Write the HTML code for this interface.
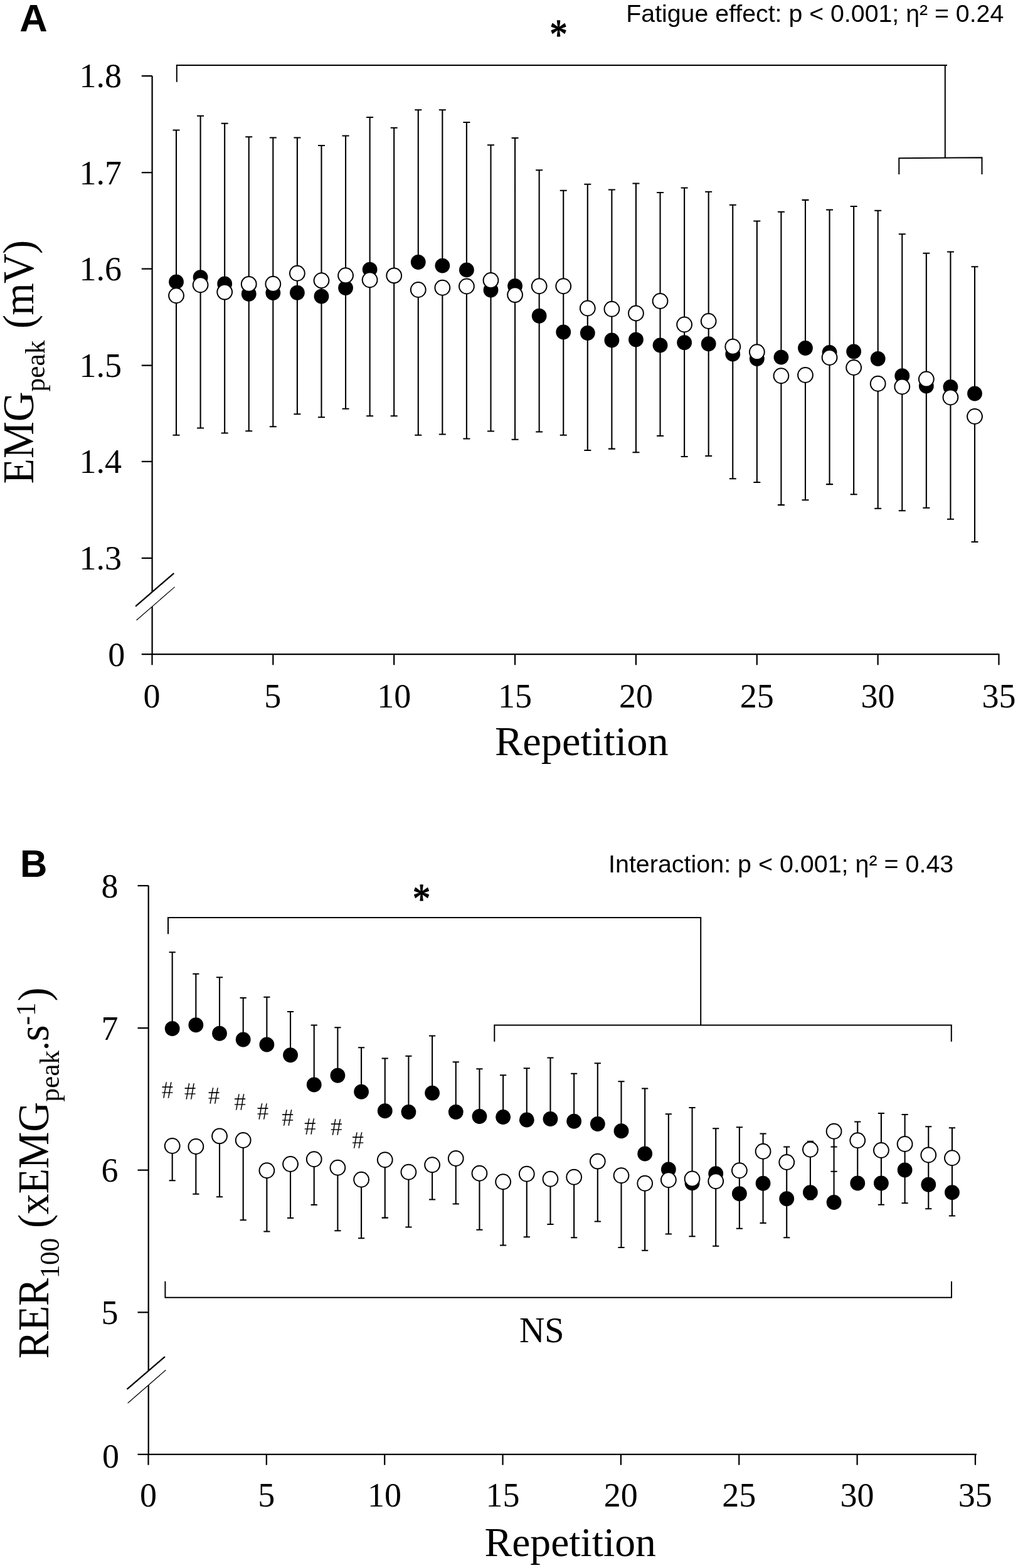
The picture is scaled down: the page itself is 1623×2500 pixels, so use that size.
<!DOCTYPE html>
<html lang="en"><head><meta charset="utf-8"><title>Figure</title>
<style>
html,body{margin:0;padding:0;background:#fff}
svg{display:block}
text{font-family:"Liberation Serif",serif;fill:#000}
.sans{font-family:"Liberation Sans",sans-serif}
.tk{font-size:55.4px}
.ax{font-size:66.4px}
.ln{stroke:#000;fill:none}
</style></head><body>
<svg width="1623" height="2500" viewBox="0 0 1623 2500">
<rect width="1623" height="2500" fill="#fff"/>
<!-- Panel A -->
<path class="ln" stroke-width="2.25" d="M242.6 121V1043.2M225.8 1043.2H1593.4M225.8 121H242.6M225.8 275.2H242.6M225.8 428.6H242.6M225.8 582.6H242.6M225.8 735.8H242.6M225.8 889.8H242.6M242.5 1043.2V1060.2M435.35 1043.2V1060.2M628.2 1043.2V1060.2M821.05 1043.2V1060.2M1013.9 1043.2V1060.2M1206.75 1043.2V1060.2M1399.6 1043.2V1060.2M1592.45 1043.2V1060.2"/>
<path fill="#fff" d="M216.3 966.5L276.9 914.2L278.4 935.9L217.8 988.7Z"/>
<path class="ln" stroke-width="2.3" stroke-linecap="round" d="M216.8 966.1L276.5 914.6"/>
<path class="ln" stroke-width="1.2" stroke-linecap="round" d="M218 988.5L278.2 936.1"/>
<path class="ln" stroke-width="2" d="M281.8 130.8V104H1510M1506.8 104V251.6M1433.3 278V252.2L1565.5 251.2V278"/>
<g class="ln" stroke-width="2.1">
<path d="M281.02 449.4V207.5M275.52 207.5H286.52M281.02 471.25V693.75M275.52 693.75H286.52M319.6 442.25V184.75M314.1 184.75H325.1M319.6 454.25V682.5M314.1 682.5H325.1M358.18 452.5V196.75M352.68 196.75H363.68M358.18 465.6V690.5M352.68 690.5H363.68M396.75 468.75V218.25M391.25 218.25H402.25M396.75 452.9V687.25M391.25 687.25H402.25M435.32 467V219.5M429.82 219.5H440.82M435.32 452.75V680.25M429.82 680.25H440.82M473.9 466.75V219.5M468.4 219.5H479.4M473.9 435.75V660.25M468.4 660.25H479.4M512.48 472.5V232M506.98 232H517.98M512.48 447.25V665.25M506.98 665.25H517.98M551.05 459.1V216.5M545.55 216.5H556.55M551.05 439.25V651.75M545.55 651.75H556.55M589.62 429.6V187M584.12 187H595.12M589.62 446.25V663.25M584.12 663.25H595.12M628.2 439.4V203.75M622.7 203.75H633.7M628.2 439.4V663.25M622.7 663.25H633.7M666.78 418V175.25M661.28 175.25H672.28M666.78 462V693.75M661.28 693.75H672.28M705.35 423.6V175.25M699.85 175.25H710.85M705.35 458.75V692.5M699.85 692.5H710.85M743.92 430.4V195M738.42 195H749.42M743.92 456.5V699.5M738.42 699.5H749.42M782.5 462.5V231.25M777 231.25H788M782.5 447V687.5M777 687.5H788M821.08 456V220M815.58 220H826.58M821.08 470.1V700.75M815.58 700.75H826.58M859.65 503.75V271.25M854.15 271.25H865.15M859.65 456.25V688.5M854.15 688.5H865.15M898.23 529.5V303.75M892.73 303.75H903.73M898.23 456.25V693.75M892.73 693.75H903.73M936.8 531V293.75M931.3 293.75H942.3M936.8 491.5V718M931.3 718H942.3M975.38 542.5V302.5M969.88 302.5H980.88M975.38 492.75V715.6M969.88 715.6H980.88M1013.95 541.5V292.5M1008.45 292.5H1019.45M1013.95 499.5V721.25M1008.45 721.25H1019.45M1052.53 550.5V307M1047.03 307H1058.03M1052.53 480V695M1047.03 695H1058.03M1091.1 546.25V299.5M1085.6 299.5H1096.6M1091.1 517.5V728M1085.6 728H1096.6M1129.67 548.25V305.75M1124.17 305.75H1135.17M1129.67 512V727M1124.17 727H1135.17M1168.25 564.5V326.75M1162.75 326.75H1173.75M1168.25 552.75V763.25M1162.75 763.25H1173.75M1206.83 572V352.5M1201.33 352.5H1212.33M1206.83 561.25V769M1201.33 769H1212.33M1245.4 569.6V337.75M1239.9 337.75H1250.9M1245.4 599.25V805.1M1239.9 805.1H1250.9M1283.98 555V318.9M1278.48 318.9H1289.48M1283.98 598V797.25M1278.48 797.25H1289.48M1322.55 562V334.5M1317.05 334.5H1328.05M1322.55 570V772.1M1317.05 772.1H1328.05M1361.13 560.5V329M1355.63 329H1366.63M1361.13 586V788.25M1355.63 788.25H1366.63M1399.7 572V335.75M1394.2 335.75H1405.2M1399.7 611.75V810.75M1394.2 810.75H1405.2M1438.28 599.25V373.25M1432.78 373.25H1443.78M1438.28 616.5V814.25M1432.78 814.25H1443.78M1476.85 615.5V403.75M1471.35 403.75H1482.35M1476.85 604.5V809.75M1471.35 809.75H1482.35M1515.43 617V401.5M1509.93 401.5H1520.93M1515.43 633.5V827.75M1509.93 827.75H1520.93M1554 627.5V425.25M1548.5 425.25H1559.5M1554 664V864M1548.5 864H1559.5"/>
</g>
<g fill="#000">
<circle cx="281.02" cy="449.4" r="11.9"/>
<circle cx="319.6" cy="442.25" r="11.9"/>
<circle cx="358.18" cy="452.5" r="11.9"/>
<circle cx="396.75" cy="468.75" r="11.9"/>
<circle cx="435.32" cy="467" r="11.9"/>
<circle cx="473.9" cy="466.75" r="11.9"/>
<circle cx="512.48" cy="472.5" r="11.9"/>
<circle cx="551.05" cy="459.1" r="11.9"/>
<circle cx="589.62" cy="429.6" r="11.9"/>
<circle cx="628.2" cy="439.4" r="11.9"/>
<circle cx="666.78" cy="418" r="11.9"/>
<circle cx="705.35" cy="423.6" r="11.9"/>
<circle cx="743.92" cy="430.4" r="11.9"/>
<circle cx="782.5" cy="462.5" r="11.9"/>
<circle cx="821.08" cy="456" r="11.9"/>
<circle cx="859.65" cy="503.75" r="11.9"/>
<circle cx="898.23" cy="529.5" r="11.9"/>
<circle cx="936.8" cy="531" r="11.9"/>
<circle cx="975.38" cy="542.5" r="11.9"/>
<circle cx="1013.95" cy="541.5" r="11.9"/>
<circle cx="1052.53" cy="550.5" r="11.9"/>
<circle cx="1091.1" cy="546.25" r="11.9"/>
<circle cx="1129.67" cy="548.25" r="11.9"/>
<circle cx="1168.25" cy="564.5" r="11.9"/>
<circle cx="1206.83" cy="572" r="11.9"/>
<circle cx="1245.4" cy="569.6" r="11.9"/>
<circle cx="1283.98" cy="555" r="11.9"/>
<circle cx="1322.55" cy="562" r="11.9"/>
<circle cx="1361.13" cy="560.5" r="11.9"/>
<circle cx="1399.7" cy="572" r="11.9"/>
<circle cx="1438.28" cy="599.25" r="11.9"/>
<circle cx="1476.85" cy="615.5" r="11.9"/>
<circle cx="1515.43" cy="617" r="11.9"/>
<circle cx="1554" cy="627.5" r="11.9"/>
</g>
<g fill="#fff" stroke="#000" stroke-width="2">
<circle cx="281.02" cy="471.25" r="11.9"/>
<circle cx="319.6" cy="454.25" r="11.9"/>
<circle cx="358.18" cy="465.6" r="11.9"/>
<circle cx="396.75" cy="452.9" r="11.9"/>
<circle cx="435.32" cy="452.75" r="11.9"/>
<circle cx="473.9" cy="435.75" r="11.9"/>
<circle cx="512.48" cy="447.25" r="11.9"/>
<circle cx="551.05" cy="439.25" r="11.9"/>
<circle cx="589.62" cy="446.25" r="11.9"/>
<circle cx="628.2" cy="439.4" r="11.9"/>
<circle cx="666.78" cy="462" r="11.9"/>
<circle cx="705.35" cy="458.75" r="11.9"/>
<circle cx="743.92" cy="456.5" r="11.9"/>
<circle cx="782.5" cy="447" r="11.9"/>
<circle cx="821.08" cy="470.1" r="11.9"/>
<circle cx="859.65" cy="456.25" r="11.9"/>
<circle cx="898.23" cy="456.25" r="11.9"/>
<circle cx="936.8" cy="491.5" r="11.9"/>
<circle cx="975.38" cy="492.75" r="11.9"/>
<circle cx="1013.95" cy="499.5" r="11.9"/>
<circle cx="1052.53" cy="480" r="11.9"/>
<circle cx="1091.1" cy="517.5" r="11.9"/>
<circle cx="1129.67" cy="512" r="11.9"/>
<circle cx="1168.25" cy="552.75" r="11.9"/>
<circle cx="1206.83" cy="561.25" r="11.9"/>
<circle cx="1245.4" cy="599.25" r="11.9"/>
<circle cx="1283.98" cy="598" r="11.9"/>
<circle cx="1322.55" cy="570" r="11.9"/>
<circle cx="1361.13" cy="586" r="11.9"/>
<circle cx="1399.7" cy="611.75" r="11.9"/>
<circle cx="1438.28" cy="616.5" r="11.9"/>
<circle cx="1476.85" cy="604.5" r="11.9"/>
<circle cx="1515.43" cy="633.5" r="11.9"/>
<circle cx="1554" cy="664" r="11.9"/>
</g>
<text class="tk" transform="translate(194,139.4) scale(0.975,1)" text-anchor="end">1.8</text>
<text class="tk" transform="translate(194,293.6) scale(0.975,1)" text-anchor="end">1.7</text>
<text class="tk" transform="translate(194,447) scale(0.975,1)" text-anchor="end">1.6</text>
<text class="tk" transform="translate(194,601) scale(0.975,1)" text-anchor="end">1.5</text>
<text class="tk" transform="translate(194,754.2) scale(0.975,1)" text-anchor="end">1.4</text>
<text class="tk" transform="translate(194,908.2) scale(0.975,1)" text-anchor="end">1.3</text>
<text class="tk" transform="translate(185.7,1062) scale(0.975,1)" text-anchor="middle">0</text>
<text class="tk" transform="translate(241.9,1128) scale(0.975,1)" text-anchor="middle">0</text>
<text class="tk" transform="translate(434.75,1128) scale(0.975,1)" text-anchor="middle">5</text>
<text class="tk" transform="translate(628.2,1128) scale(0.975,1)" text-anchor="middle">10</text>
<text class="tk" transform="translate(821.05,1128) scale(0.975,1)" text-anchor="middle">15</text>
<text class="tk" transform="translate(1013.9,1128) scale(0.975,1)" text-anchor="middle">20</text>
<text class="tk" transform="translate(1206.75,1128) scale(0.975,1)" text-anchor="middle">25</text>
<text class="tk" transform="translate(1399.6,1128) scale(0.975,1)" text-anchor="middle">30</text>
<text class="tk" transform="translate(1592.45,1128) scale(0.975,1)" text-anchor="middle">35</text>
<text class="ax" x="789" y="1203.5">Repetition</text>
<text class="ax" transform="translate(53.1,771.4) rotate(-90) scale(0.996,1.04)">EMG<tspan font-size="43.5" dy="16.8">peak</tspan><tspan dy="-16.8" dx="3" letter-spacing="-0.8"> (mV)</tspan></text>
<text class="sans" font-weight="bold" font-size="61.6" x="31.2" y="50.4">A</text>
<text class="sans" font-size="39" x="998.3" y="34.5" textLength="602" lengthAdjust="spacingAndGlyphs">Fatigue effect: p &lt; 0.001; η² = 0.24</text>
<text font-size="68" stroke="#000" stroke-width="1.3" stroke-linejoin="round" transform="translate(890.5,46.9) scale(0.84,1)" x="0" y="30.5" text-anchor="middle">*</text>
<!-- Panel B -->
<path class="ln" stroke-width="2.25" d="M236.7 1412V2318.8M219.5 2318.8H1556.9M219.5 1412H236.7M219.5 1639H236.7M219.5 1865.6H236.7M219.5 2092.3H236.7M236.5 2318.8V2335.8M424.85 2318.8V2335.8M613.2 2318.8V2335.8M801.55 2318.8V2335.8M989.9 2318.8V2335.8M1178.25 2318.8V2335.8M1366.6 2318.8V2335.8M1554.95 2318.8V2335.8"/>
<path fill="#fff" d="M202.7 2214.8L262.7 2163.3L264.1 2184.5L203.9 2237Z"/>
<path class="ln" stroke-width="2.3" stroke-linecap="round" d="M203.2 2214.4L262.3 2163.7"/>
<path class="ln" stroke-width="1.2" stroke-linecap="round" d="M204.1 2236.8L263.9 2184.7"/>
<path class="ln" stroke-width="2" d="M268 1489.3V1463H1117.2V1634M788.3 1660.8V1634.4H1516.8V1660.8M263.4 2043V2068.8H1517V2043"/>
<g class="ln" stroke-width="2.1">
<path d="M274.68 1640V1518.25M269.57 1518.25H279.78M274.68 1827V1882.25M269.57 1882.25H279.78M312.35 1634.25V1552.75M307.25 1552.75H317.45M312.35 1828V1903.75M307.25 1903.75H317.45M350.02 1647.75V1558.25M344.92 1558.25H355.12M350.02 1811.4V1908.25M344.92 1908.25H355.12M387.7 1657.5V1591M382.6 1591H392.8M387.7 1818V1945.25M382.6 1945.25H392.8M425.38 1665.5V1589.75M420.27 1589.75H430.48M425.38 1866.25V1963.5M420.27 1963.5H430.48M463.05 1682.25V1613M457.95 1613H468.15M463.05 1856V1942M457.95 1942H468.15M500.72 1729.5V1634.5M495.62 1634.5H505.82M500.72 1848.25V1921M495.62 1921H505.82M538.4 1714.75V1638.25M533.3 1638.25H543.5M538.4 1861.75V1962.25M533.3 1962.25H543.5M576.08 1740.75V1670.25M570.98 1670.25H581.18M576.08 1880.75V1974.25M570.98 1974.25H581.18M613.75 1771.25V1687.5M608.65 1687.5H618.85M613.75 1849.25V1941.6M608.65 1941.6H618.85M651.42 1773V1683.75M646.32 1683.75H656.52M651.42 1868.75V1956.5M646.32 1956.5H656.52M689.1 1742.75V1651.5M684 1651.5H694.2M689.1 1857.25V1912.5M684 1912.5H694.2M726.77 1773V1693.25M721.67 1693.25H731.88M726.77 1847V1919.5M721.67 1919.5H731.88M764.45 1780V1704.25M759.35 1704.25H769.55M764.45 1870.75V1960.75M759.35 1960.75H769.55M802.12 1781V1714.25M797.02 1714.25H807.23M802.12 1884.25V1985.5M797.02 1985.5H807.23M839.8 1785.5V1703.25M834.7 1703.25H844.9M839.8 1871.75V1972.25M834.7 1972.25H844.9M877.47 1784V1686.5M872.37 1686.5H882.57M877.47 1879.75V1952M872.37 1952H882.57M915.15 1787.75V1711.75M910.05 1711.75H920.25M915.15 1876.75V1973.25M910.05 1973.25H920.25M952.82 1792V1695.25M947.72 1695.25H957.92M952.82 1851.6V1947.5M947.72 1947.5H957.92M990.5 1803.25V1724.25M985.4 1724.25H995.6M990.5 1874.25V1989M985.4 1989H995.6M1028.17 1839.5V1735.5M1023.07 1735.5H1033.27M1028.17 1886.75V1993.75M1023.07 1993.75H1033.27M1065.85 1864.5V1776.25M1060.75 1776.25H1070.95M1065.85 1881.25V1967.5M1060.75 1967.5H1070.95M1103.53 1886.25V1766M1098.43 1766H1108.62M1103.53 1879.5V1971.25M1098.43 1971.25H1108.62M1141.2 1871.25V1799.25M1136.1 1799.25H1146.3M1141.2 1883.25V1986.75M1136.1 1986.75H1146.3M1178.88 1903.25V1797.25M1173.78 1797.25H1183.97M1178.88 1866.25V1958.75M1173.78 1958.75H1183.97M1216.55 1886.75V1807.5M1211.45 1807.5H1221.65M1216.55 1835.75V1950M1211.45 1950H1221.65M1254.22 1911.25V1828.5M1249.12 1828.5H1259.32M1254.22 1853V1973.25M1249.12 1973.25H1259.32M1291.9 1901.25V1819.75M1286.8 1819.75H1297M1291.9 1832.75V1912.5M1286.8 1912.5H1297M1329.57 1917V1828.5M1324.47 1828.5H1334.67M1329.57 1803.75V1867.75M1324.47 1867.75H1334.67M1367.25 1886.5V1788.5M1362.15 1788.5H1372.35M1367.25 1818.25V1886.5M1362.15 1886.5H1372.35M1404.92 1886.5V1775M1399.83 1775H1410.02M1404.92 1834V1920.75M1399.83 1920.75H1410.02M1442.6 1865.5V1777M1437.5 1777H1447.7M1442.6 1824V1918.25M1437.5 1918.25H1447.7M1480.27 1888.75V1796.25M1475.17 1796.25H1485.37M1480.27 1841.5V1927.25M1475.17 1927.25H1485.37M1517.95 1901.25V1798.25M1512.85 1798.25H1523.05M1517.95 1846.25V1938.5M1512.85 1938.5H1523.05"/>
</g>
<g fill="#000">
<circle cx="274.68" cy="1640" r="11.9"/>
<circle cx="312.35" cy="1634.25" r="11.9"/>
<circle cx="350.02" cy="1647.75" r="11.9"/>
<circle cx="387.7" cy="1657.5" r="11.9"/>
<circle cx="425.38" cy="1665.5" r="11.9"/>
<circle cx="463.05" cy="1682.25" r="11.9"/>
<circle cx="500.72" cy="1729.5" r="11.9"/>
<circle cx="538.4" cy="1714.75" r="11.9"/>
<circle cx="576.08" cy="1740.75" r="11.9"/>
<circle cx="613.75" cy="1771.25" r="11.9"/>
<circle cx="651.42" cy="1773" r="11.9"/>
<circle cx="689.1" cy="1742.75" r="11.9"/>
<circle cx="726.77" cy="1773" r="11.9"/>
<circle cx="764.45" cy="1780" r="11.9"/>
<circle cx="802.12" cy="1781" r="11.9"/>
<circle cx="839.8" cy="1785.5" r="11.9"/>
<circle cx="877.47" cy="1784" r="11.9"/>
<circle cx="915.15" cy="1787.75" r="11.9"/>
<circle cx="952.82" cy="1792" r="11.9"/>
<circle cx="990.5" cy="1803.25" r="11.9"/>
<circle cx="1028.17" cy="1839.5" r="11.9"/>
<circle cx="1065.85" cy="1864.5" r="11.9"/>
<circle cx="1103.53" cy="1886.25" r="11.9"/>
<circle cx="1141.2" cy="1871.25" r="11.9"/>
<circle cx="1178.88" cy="1903.25" r="11.9"/>
<circle cx="1216.55" cy="1886.75" r="11.9"/>
<circle cx="1254.22" cy="1911.25" r="11.9"/>
<circle cx="1291.9" cy="1901.25" r="11.9"/>
<circle cx="1329.57" cy="1917" r="11.9"/>
<circle cx="1367.25" cy="1886.5" r="11.9"/>
<circle cx="1404.92" cy="1886.5" r="11.9"/>
<circle cx="1442.6" cy="1865.5" r="11.9"/>
<circle cx="1480.27" cy="1888.75" r="11.9"/>
<circle cx="1517.95" cy="1901.25" r="11.9"/>
</g>
<g fill="#fff" stroke="#000" stroke-width="2">
<circle cx="274.68" cy="1827" r="11.9"/>
<circle cx="312.35" cy="1828" r="11.9"/>
<circle cx="350.02" cy="1811.4" r="11.9"/>
<circle cx="387.7" cy="1818" r="11.9"/>
<circle cx="425.38" cy="1866.25" r="11.9"/>
<circle cx="463.05" cy="1856" r="11.9"/>
<circle cx="500.72" cy="1848.25" r="11.9"/>
<circle cx="538.4" cy="1861.75" r="11.9"/>
<circle cx="576.08" cy="1880.75" r="11.9"/>
<circle cx="613.75" cy="1849.25" r="11.9"/>
<circle cx="651.42" cy="1868.75" r="11.9"/>
<circle cx="689.1" cy="1857.25" r="11.9"/>
<circle cx="726.77" cy="1847" r="11.9"/>
<circle cx="764.45" cy="1870.75" r="11.9"/>
<circle cx="802.12" cy="1884.25" r="11.9"/>
<circle cx="839.8" cy="1871.75" r="11.9"/>
<circle cx="877.47" cy="1879.75" r="11.9"/>
<circle cx="915.15" cy="1876.75" r="11.9"/>
<circle cx="952.82" cy="1851.6" r="11.9"/>
<circle cx="990.5" cy="1874.25" r="11.9"/>
<circle cx="1028.17" cy="1886.75" r="11.9"/>
<circle cx="1065.85" cy="1881.25" r="11.9"/>
<circle cx="1103.53" cy="1879.5" r="11.9"/>
<circle cx="1141.2" cy="1883.25" r="11.9"/>
<circle cx="1178.88" cy="1866.25" r="11.9"/>
<circle cx="1216.55" cy="1835.75" r="11.9"/>
<circle cx="1254.22" cy="1853" r="11.9"/>
<circle cx="1291.9" cy="1832.75" r="11.9"/>
<circle cx="1329.57" cy="1803.75" r="11.9"/>
<circle cx="1367.25" cy="1818.25" r="11.9"/>
<circle cx="1404.92" cy="1834" r="11.9"/>
<circle cx="1442.6" cy="1824" r="11.9"/>
<circle cx="1480.27" cy="1841.5" r="11.9"/>
<circle cx="1517.95" cy="1846.25" r="11.9"/>
</g>
<text class="tk" transform="translate(175,1430.7) scale(0.975,1)" text-anchor="middle">8</text>
<text class="tk" transform="translate(175,1657.7) scale(0.975,1)" text-anchor="middle">7</text>
<text class="tk" transform="translate(175,1884.3) scale(0.975,1)" text-anchor="middle">6</text>
<text class="tk" transform="translate(175,2111) scale(0.975,1)" text-anchor="middle">5</text>
<text class="tk" transform="translate(176.5,2340) scale(0.975,1)" text-anchor="middle">0</text>
<text class="tk" transform="translate(236.4,2402.3) scale(0.975,1)" text-anchor="middle">0</text>
<text class="tk" transform="translate(424.75,2402.3) scale(0.975,1)" text-anchor="middle">5</text>
<text class="tk" transform="translate(613.1,2402.3) scale(0.975,1)" text-anchor="middle">10</text>
<text class="tk" transform="translate(801.45,2402.3) scale(0.975,1)" text-anchor="middle">15</text>
<text class="tk" transform="translate(989.8,2402.3) scale(0.975,1)" text-anchor="middle">20</text>
<text class="tk" transform="translate(1178.15,2402.3) scale(0.975,1)" text-anchor="middle">25</text>
<text class="tk" transform="translate(1366.5,2402.3) scale(0.975,1)" text-anchor="middle">30</text>
<text class="tk" transform="translate(1554.85,2402.3) scale(0.975,1)" text-anchor="middle">35</text>
<text class="ax" x="772.5" y="2481.2" textLength="273.3" lengthAdjust="spacingAndGlyphs">Repetition</text>
<text class="ax" transform="translate(76.9,2166.2) rotate(-90) scale(1,1.037)"><tspan letter-spacing="-0.4">RER<tspan font-size="43.5" dy="16.2">100</tspan><tspan dy="-16.2"> (xEM</tspan></tspan>G<tspan font-size="43.5" dy="16.2">peak</tspan><tspan dy="-16.2" font-size="58">.</tspan><tspan>s</tspan><tspan font-size="43.5" dy="-20">-1</tspan><tspan dy="20" dx="1.6">)</tspan></text>
<text class="sans" font-weight="bold" font-size="61.6" x="32" y="1398.4" textLength="43.4" lengthAdjust="spacingAndGlyphs">B</text>
<text class="sans" font-size="39" x="970" y="1391" textLength="550.3" lengthAdjust="spacingAndGlyphs">Interaction: p &lt; 0.001; η² = 0.43</text>
<text font-size="68" stroke="#000" stroke-width="1.3" stroke-linejoin="round" transform="translate(671.9,1424.3) scale(0.84,1)" x="0" y="30.5" text-anchor="middle">*</text>
<text font-size="56" x="863.7" y="2140" text-anchor="middle">NS</text>
<g font-size="39.8" fill="#222" stroke="#fff" stroke-width="0.3" text-anchor="middle">
<text transform="translate(266.8,1750.95) scale(0.94,1)">#</text>
<text transform="translate(303.05,1752.95) scale(0.94,1)">#</text>
<text transform="translate(341.05,1759.95) scale(0.94,1)">#</text>
<text transform="translate(382.55,1769.7) scale(0.94,1)">#</text>
<text transform="translate(419.05,1785.45) scale(0.94,1)">#</text>
<text transform="translate(458.55,1795.2) scale(0.94,1)">#</text>
<text transform="translate(494.3,1808.95) scale(0.94,1)">#</text>
<text transform="translate(536.3,1809.95) scale(0.94,1)">#</text>
<text transform="translate(570.55,1831.2) scale(0.94,1)">#</text>
</g>
</svg></body></html>
